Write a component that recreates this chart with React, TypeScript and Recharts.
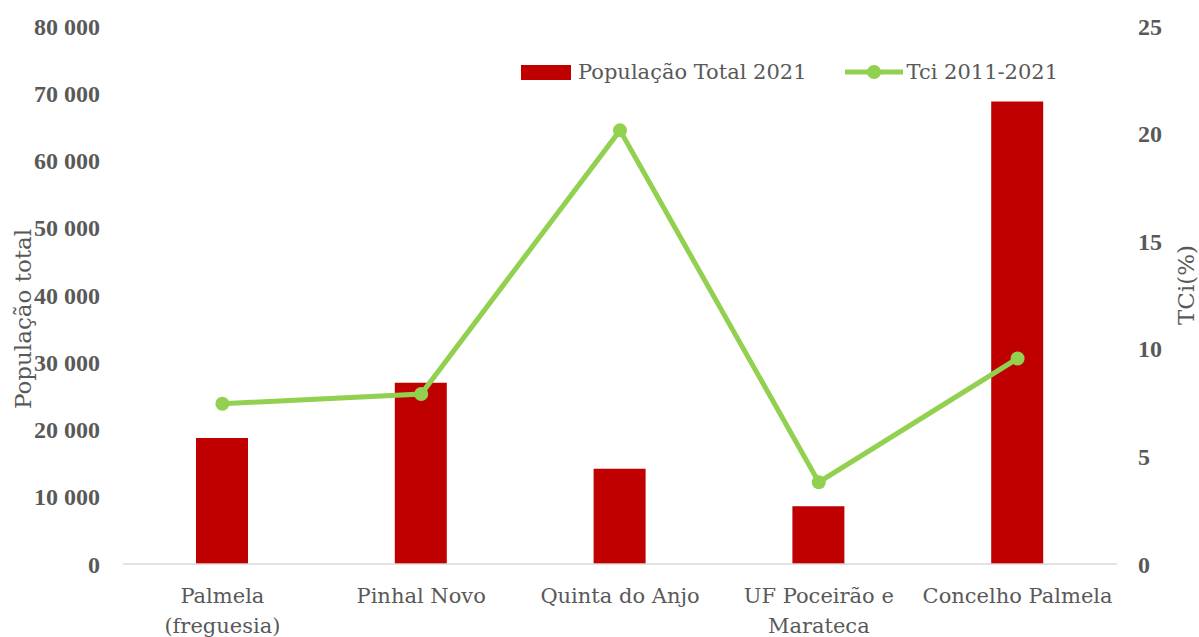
import React from 'react';
import { ComposedChart, Bar, Line, XAxis, YAxis, Legend } from 'recharts';

const categories = ['Palmela\n(freguesia)', 'Pinhal Novo', 'Quinta do Anjo', 'UF Poceirão e\nMarateca', 'Concelho Palmela'];
const populacaoTotal2021 = [18750, 26950, 14150, 8600, 68780];
const tci20112021 = [7.45, 7.9, 20.15, 3.8, 9.55];
const leftTicks = [0, 10000, 20000, 30000, 40000, 50000, 60000, 70000, 80000];
const rightTicks = [0, 5, 10, 15, 20, 25];
const seriesNames = ['População Total 2021', 'Tci 2011-2021'];
const axisTitles = ['População total', 'TCi(%)'];

const data = categories.map((c, i) => ({ categoria: c, pop: populacaoTotal2021[i], tci: tci20112021[i] }));

const RED = '#C00000';
const GREEN = '#92D050';
const TEXT = '#595959';
const SERIF = '"DejaVu Serif", serif';
const TICKFONT = '"Liberation Serif", serif';

const fmt = (v: number) => String(v).replace(/\B(?=(\d{3})+(?!\d))/g, ' ');

const CategoryTick = (props: any) => {
  const { x, y, payload } = props;
  const lines = String(payload.value).split('\n');
  return (
    <text x={x} y={y} textAnchor="middle" fill={TEXT} fontFamily={SERIF} fontSize={21}>
      {lines.map((l, i) => (
        <tspan key={i} x={x} dy={i === 0 ? 31 : 30}>{l}</tspan>
      ))}
    </text>
  );
};

const LeftTitle = (props: any) => {
  const vb = props.viewBox;
  const cx = vb.x + 23;
  const cy = vb.y + vb.height / 2 + 24;
  return (
    <text x={cx} y={cy} transform={`rotate(-90 ${cx} ${cy})`} textAnchor="middle" dominantBaseline="central" fill={TEXT} fontFamily={SERIF} fontSize={23}>
      {axisTitles[0]}
    </text>
  );
};

const RightTitle = (props: any) => {
  const vb = props.viewBox;
  const cx = vb.x + 69;
  const cy = vb.y + vb.height / 2 - 10;
  return (
    <text x={cx} y={cy} transform={`rotate(-90 ${cx} ${cy})`} textAnchor="middle" dominantBaseline="central" fill={TEXT} fontFamily={SERIF} fontSize={23}>
      {axisTitles[1]}
    </text>
  );
};

const renderLegend = (props: any) => {
  const { payload } = props;
  return (
    <div style={{ display: 'flex', alignItems: 'center', fontFamily: SERIF, fontSize: 21, color: TEXT, whiteSpace: 'nowrap' }}>
      {payload.map((entry: any, i: number) => (
        <div key={i} style={{ display: 'flex', alignItems: 'center', marginRight: i === 0 ? 38 : 0 }}>
          {entry.dataKey === 'pop' ? (
            <span style={{ display: 'inline-block', width: 50, height: 15, background: RED, marginRight: 7 }} />
          ) : (
            <svg width={58} height={16} style={{ marginRight: 4 }}>
              <line x1={0} y1={8} x2={58} y2={8} stroke={GREEN} strokeWidth={5} strokeLinecap="round" />
              <circle cx={29} cy={8} r={7} fill={GREEN} />
            </svg>
          )}
          <span>{entry.value}</span>
        </div>
      ))}
    </div>
  );
};

export default function App() {
  return (
    <div style={{ position: 'absolute', left: 0, top: 0, width: 1199, height: 637, background: '#fff' }}>
      <ComposedChart width={1199} height={637} data={data} margin={{ top: 26, right: 0, bottom: 0, left: 0 }}>
        <XAxis
          dataKey="categoria"
          height={73}
          tickLine={false}
          axisLine={{ stroke: '#D9D9D9', strokeWidth: 1.5 }}
          tick={<CategoryTick />}
          interval={0}
        />
        <YAxis
          yAxisId="left"
          orientation="left"
          width={123}
          domain={[0, 80000]}
          ticks={leftTicks}
          tickFormatter={fmt}
          axisLine={false}
          tickLine={false}
          tickMargin={17}
          tick={{ fill: TEXT, fontFamily: TICKFONT, fontSize: 24, fontWeight: 'bold' }}
          label={<LeftTitle />}
        />
        <YAxis
          yAxisId="right"
          orientation="right"
          width={82}
          domain={[0, 25]}
          ticks={rightTicks}
          axisLine={false}
          tickLine={false}
          tickMargin={15}
          tick={{ fill: TEXT, fontFamily: TICKFONT, fontSize: 24, fontWeight: 'bold', textAnchor: 'start' }}
          label={<RightTitle />}
        />
        <Legend
          layout="horizontal"
          verticalAlign="middle"
          align="center"
          content={renderLegend}
          wrapperStyle={{ top: 60, left: 521, width: 560, height: 28 }}
        />
        <Bar yAxisId="left" dataKey="pop" name={seriesNames[0]} fill={RED} barSize={52} isAnimationActive={false} />
        <Line
          yAxisId="right"
          dataKey="tci"
          name={seriesNames[1]}
          type="linear"
          stroke={GREEN}
          strokeWidth={5}
          dot={{ r: 7, fill: GREEN, stroke: GREEN, strokeWidth: 0 }}
          activeDot={false}
          isAnimationActive={false}
        />
      </ComposedChart>
    </div>
  );
}
